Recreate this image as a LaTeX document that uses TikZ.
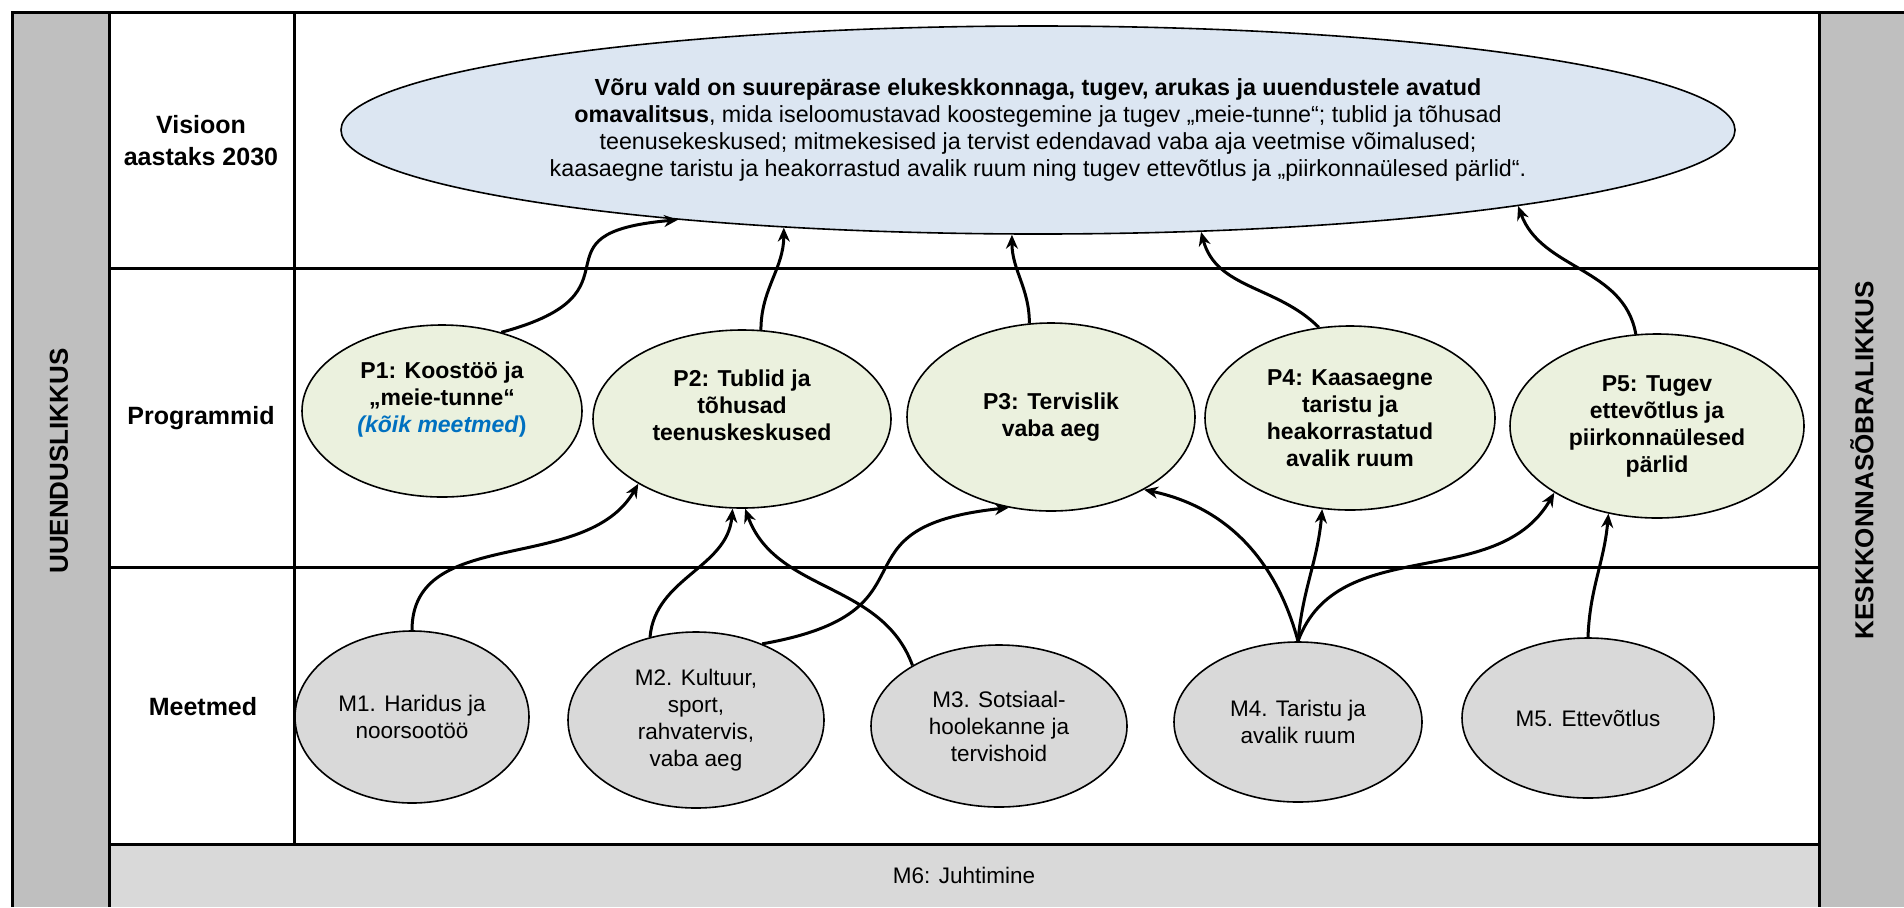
\documentclass[tikz,border=0pt]{standalone}
\usepackage{fontspec}
\setmainfont{Liberation Sans}
\usetikzlibrary{positioning, arrows, arrows.meta, shapes.geometric}
\definecolor{sidegray}{HTML}{BFBFBF}
\definecolor{rowgray}{HTML}{D9D9D9}
\definecolor{visblue}{HTML}{DCE6F2}
\definecolor{progreen}{HTML}{EBF1DE}
\definecolor{linkblue}{HTML}{0070C0}
\tikzstyle{vision} = [ellipse, draw=black, line width=0.8pt, fill=visblue, minimum width=697pt, minimum height=104pt, inner sep=0pt, align=center, font=\fontsize{11.65pt}{13.6pt}\selectfont]
\tikzstyle{program} = [ellipse, draw=black, line width=0.8pt, fill=progreen, minimum width=146pt, minimum height=91pt, inner sep=0pt, align=center, font=\fontsize{11.5pt}{13.5pt}\selectfont\bfseries]
\tikzstyle{measure} = [ellipse, draw=black, line width=0.8pt, fill=rowgray, minimum width=126pt, minimum height=81pt, inner sep=0pt, align=center, font=\fontsize{11.25pt}{13.5pt}\selectfont]
\tikzstyle{rowlabel} = [align=center, font=\fontsize{12.5pt}{16pt}\selectfont\bfseries]
\tikzstyle{sidelabel} = [rotate=90, font=\fontsize{13pt}{16pt}\selectfont\bfseries]
\tikzstyle{tableline} = [line width=1.5pt]
\tikzstyle{arrow} = [line width=1.5pt, -{Stealth[length=7pt, width=6pt]}]

\begin{document}
\begin{tikzpicture}[x=0.5pt, y=0.5pt]
    \useasboundingbox (0,0) rectangle (1904,-907);
    \fill [sidegray] (12,-12) rectangle (109,-907);
    \fill [sidegray] (1819,-12) rectangle (1904,-907);
    \fill [rowgray] (109,-844) rectangle (1819,-907);
    \draw [tableline] (12,-907) -- (12,-12) -- (1904,-12);
    \draw [tableline] (109,-12) -- (109,-907);
    \draw [tableline] (294,-12) -- (294,-844);
    \draw [tableline] (1819,-12) -- (1819,-907);
    \foreach \y in {268,567,844}
      \draw [tableline] (109,-\y) -- (1819,-\y);

    \node (left) [sidelabel] at (59,-461) {UUENDUSLIKKUS};
    \node (right) [sidelabel] at (1862,-460) {KESKKONNASÕBRALIKKUS};
    \node (vislabel) [rowlabel] at (201,-141) {Visioon\\aastaks 2030};
    \node (proglabel) [rowlabel] at (201,-418) {Programmid};
    \node (measlabel) [rowlabel] at (203,-707) {Meetmed};
    \node (m6) [font=\fontsize{11.25pt}{13.5pt}\selectfont] at (964,-875) {M6: Juhtimine};

    \node (vis) [vision] at (1038,-130)
      {\textbf{Võru vald on suurepärase elukeskkonnaga, tugev, arukas ja uuendustele avatud}\\
       \textbf{omavalitsus}, mida iseloomustavad koostegemine ja tugev „meie-tunne“; tublid ja tõhusad\\
       teenusekeskused; mitmekesised ja tervist edendavad vaba aja veetmise võimalused;\\
       kaasaegne taristu ja heakorrastud avalik ruum ning tugev ettevõtlus ja „piirkonnaülesed pärlid“.};

    \node (p1) [program, minimum width=140pt, minimum height=86pt] at (442,-411)
      {P1: Koostöö ja\\„meie-tunne“\\{\color{linkblue}\textit{(kõik meetmed})}\\\mbox{}};
    \node (p2) [program, minimum width=149pt, minimum height=89pt] at (742,-419)
      {P2: Tublid ja\\tõhusad\\teenuskeskused\\\mbox{}};
    \node (p3) [program, minimum width=144pt, minimum height=94pt] at (1051,-417)
      {P3: Tervislik\\vaba aeg};
    \node (p4) [program, minimum width=145pt, minimum height=92pt] at (1350,-418)
      {P4: Kaasaegne\\taristu ja\\heakorrastatud\\avalik ruum};
    \node (p5) [program, minimum width=147pt, minimum height=92pt] at (1657,-426)
      {P5: Tugev\\ettevõtlus ja\\piirkonnaülesed\\pärlid};

    \node (m1) [measure, minimum width=117pt, minimum height=86pt] at (412,-717)
      {M1. Haridus ja\\noorsootöö};
    \node (m2) [measure, minimum width=128pt, minimum height=88pt] at (696,-720)
      {M2. Kultuur,\\sport,\\rahvatervis,\\vaba aeg};
    \node (m3) [measure, minimum width=128pt] at (999,-726)
      {M3. Sotsiaal-\\hoolekanne ja\\tervishoid};
    \node (m4) [measure, minimum width=124pt, minimum height=80pt] at (1298,-722)
      {M4. Taristu ja\\avalik ruum};
    \node (m5) [measure, minimum height=80pt] at (1588,-718)
      {M5. Ettevõtlus};

    \draw [arrow] (p1.53) to[out=15, in=185, looseness=1.9] (vis.194);
    \draw [arrow] (p2.78) to[out=90, in=270] (vis.201);
    \draw [arrow] (p3.103) to[out=90, in=270] (vis.256);
    \draw [arrow] (p4.109) to[out=135, in=285] (vis.328);
    \draw [arrow] (p5.103) to[out=100, in=290] (vis.351);

    \draw [arrow] (m1.north) to[out=90, in=240] (p2.212);
    \draw [arrow] (m2.119) to[out=85, in=265] (p2.264);
    \draw [arrow] (m3.145) to[out=110, in=290] (p2.272);
    \draw [arrow] (m2.49) to[out=10, in=186, looseness=1.7] (p3.245);
    \draw [arrow] (m4.north) to[out=105, in=348] (p3.322);
    \draw [arrow] (m4.north) to[out=85, in=265] (p4.253);
    \draw [arrow] (m4.north) to[out=70, in=240] (p5.213);
    \draw [arrow] (m5.north) to[out=88, in=265] (p5.241);
\end{tikzpicture}
\end{document}
